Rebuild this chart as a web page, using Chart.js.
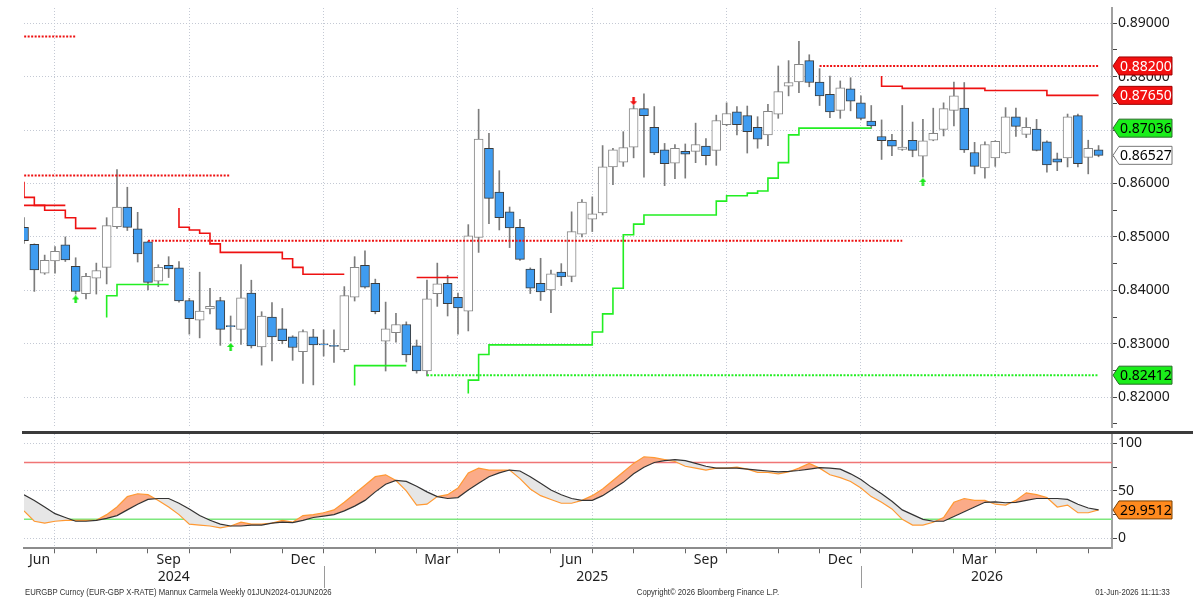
<!DOCTYPE html>
<html>
<head>
<meta charset="utf-8">
<script src="https://cdn.jsdelivr.net/npm/chart.js@4.4.0/dist/chart.umd.min.js"></script>
<style>
  html, body { margin: 0; padding: 0; background: #fff; }
  #wrap { position: relative; width: 1193px; height: 600px; overflow: hidden; }
  #priceCanvas { position: absolute; left: 0; top: 0; }
  #oscCanvas { position: absolute; left: 0; top: 432px; }
  .sep { position: absolute; left: 22px; top: 431px; width: 1171px; height: 3px; background: #3b3b3b; }
  .grip { position: absolute; left: 590px; top: 432px; width: 10px; height: 1px; background: #bbb; }
  .foot { position: absolute; top: 587px; font-family: "Liberation Sans", sans-serif; font-size: 9px; color: #333; white-space: nowrap; transform: scaleX(0.86); }
</style>
</head>
<body>
<div id="wrap">
  <canvas id="priceCanvas" width="1193" height="432"></canvas>
  <canvas id="oscCanvas" width="1193" height="168"></canvas>
  <div class="sep"></div>
  <div class="grip"></div>
  <div class="foot" style="left:25px;transform-origin:left top">EURGBP Curncy (EUR-GBP X-RATE) Mannux Carmela Weekly 01JUN2024-01JUN2026</div>
  <div class="foot" style="left:0;width:1416px;text-align:center;transform-origin:708px top">Copyright© 2026 Bloomberg Finance L.P.</div>
  <div class="foot" style="right:23px;transform-origin:right top">01-Jun-2026 11:11:33</div>
</div>
<script>
// weekly bars, EUR-GBP
const weeks = [];
for (let i = 0; i < 105; i++) {
  weeks.push(new Date(Date.UTC(2024, 5, 7 + 7 * i)).toISOString().slice(0, 10));
}

const open = [
  0.8518, 0.8486, 0.8432, 0.8455, 0.8485, 0.8445, 0.8394, 0.8423, 0.8443, 0.8519,
  0.8556, 0.8515, 0.8491, 0.8417, 0.8447, 0.8442, 0.8381, 0.8344, 0.8365, 0.8381,
  0.8334, 0.8327, 0.8395, 0.8294, 0.8350, 0.8328, 0.8313, 0.8285, 0.8313, 0.8300,
  0.8297, 0.8289, 0.8387, 0.8447, 0.8413, 0.8305, 0.8321, 0.8336, 0.8296, 0.8249,
  0.8394, 0.8413, 0.8387, 0.8361, 0.8499, 0.8666, 0.8584, 0.8547, 0.8518, 0.8440,
  0.8413, 0.8401, 0.8434, 0.8426, 0.8505, 0.8533, 0.8545, 0.8631, 0.8640, 0.8668,
  0.8740, 0.8705, 0.8663, 0.8638, 0.8660, 0.8660, 0.8670, 0.8662, 0.8710, 0.8734,
  0.8727, 0.8705, 0.8691, 0.8730, 0.8782, 0.8790, 0.8830, 0.8790, 0.8767, 0.8737,
  0.8777, 0.8751, 0.8717, 0.8688, 0.8681, 0.8664, 0.8681, 0.8651, 0.8681, 0.8701,
  0.8737, 0.8741, 0.8658, 0.8629, 0.8648, 0.8657, 0.8725, 0.8692, 0.8702, 0.8678,
  0.8646, 0.8648, 0.8727, 0.8649, 0.8663
];
const high = [
  0.8536, 0.8487, 0.8466, 0.8482, 0.8500, 0.8461, 0.8432, 0.8451, 0.8536, 0.8626,
  0.8593, 0.8546, 0.8492, 0.8448, 0.8463, 0.8454, 0.8385, 0.8434, 0.8404, 0.8387,
  0.8352, 0.8448, 0.8419, 0.8360, 0.8377, 0.8366, 0.8315, 0.8326, 0.8327, 0.8326,
  0.8326, 0.8407, 0.8463, 0.8474, 0.8421, 0.8378, 0.8357, 0.8341, 0.8307, 0.8419,
  0.8451, 0.8428, 0.8395, 0.8523, 0.8739, 0.8694, 0.8624, 0.8556, 0.8533, 0.8442,
  0.8460, 0.8438, 0.8450, 0.8547, 0.8570, 0.8575, 0.8671, 0.8666, 0.8697, 0.8746,
  0.8768, 0.8744, 0.8675, 0.8673, 0.8674, 0.8713, 0.8684, 0.8728, 0.8751, 0.8744,
  0.8745, 0.8725, 0.8748, 0.8820, 0.8830, 0.8866, 0.8841, 0.8815, 0.8801, 0.8792,
  0.8798, 0.8764, 0.8746, 0.8719, 0.8692, 0.8746, 0.8715, 0.8720, 0.8741, 0.8751,
  0.8790, 0.8789, 0.8677, 0.8678, 0.8680, 0.8742, 0.8741, 0.8723, 0.8720, 0.8680,
  0.8657, 0.8730, 0.8730, 0.8681, 0.8671
];
const low = [
  0.8488, 0.8398, 0.8430, 0.8432, 0.8454, 0.8393, 0.8384, 0.8393, 0.8412, 0.8516,
  0.8512, 0.8453, 0.8401, 0.8407, 0.8424, 0.8378, 0.8318, 0.8311, 0.8356, 0.8297,
  0.8305, 0.8299, 0.8292, 0.8260, 0.8268, 0.8300, 0.8269, 0.8226, 0.8223, 0.8277,
  0.8265, 0.8285, 0.8380, 0.8404, 0.8356, 0.8249, 0.8303, 0.8266, 0.8245, 0.8240,
  0.8370, 0.8352, 0.8318, 0.8324, 0.8471, 0.8525, 0.8513, 0.8480, 0.8456, 0.8394,
  0.8381, 0.8358, 0.8409, 0.8416, 0.8500, 0.8510, 0.8541, 0.8598, 0.8632, 0.8648,
  0.8612, 0.8654, 0.8596, 0.8609, 0.8610, 0.8639, 0.8635, 0.8634, 0.8708, 0.8691,
  0.8657, 0.8666, 0.8671, 0.8722, 0.8764, 0.8770, 0.8781, 0.8746, 0.8723, 0.8722,
  0.8736, 0.8719, 0.8703, 0.8645, 0.8652, 0.8662, 0.8650, 0.8612, 0.8680, 0.8689,
  0.8708, 0.8658, 0.8618, 0.8610, 0.8632, 0.8656, 0.8688, 0.8686, 0.8661, 0.8621,
  0.8624, 0.8631, 0.8631, 0.8618, 0.8650
];
const close = [
  0.8493, 0.8438, 0.8456, 0.8473, 0.8457, 0.8398, 0.8426, 0.8437, 0.8521, 0.8556,
  0.8518, 0.8468, 0.8415, 0.8443, 0.8440, 0.8380, 0.8347, 0.8361, 0.8370, 0.8327,
  0.8332, 0.8386, 0.8296, 0.8352, 0.8313, 0.8306, 0.8293, 0.8323, 0.8298, 0.8298,
  0.8295, 0.8390, 0.8443, 0.8406, 0.8360, 0.8328, 0.8336, 0.8279, 0.8249, 0.8384,
  0.8412, 0.8375, 0.8367, 0.8502, 0.8683, 0.8572, 0.8536, 0.8517, 0.8458, 0.8404,
  0.8397, 0.8431, 0.8425, 0.8510, 0.8565, 0.8543, 0.8631, 0.8663, 0.8667, 0.8740,
  0.8727, 0.8657, 0.8637, 0.8666, 0.8655, 0.8673, 0.8652, 0.8718, 0.8731, 0.8710,
  0.8697, 0.8683, 0.8735, 0.8772, 0.8789, 0.8823, 0.8789, 0.8764, 0.8734, 0.8779,
  0.8754, 0.8722, 0.8708, 0.8680, 0.8670, 0.8668, 0.8662, 0.8680, 0.8694, 0.8740,
  0.8764, 0.8663, 0.8632, 0.8673, 0.8679, 0.8725, 0.8707, 0.8705, 0.8662, 0.8635,
  0.8640, 0.8725, 0.8637, 0.8666, 0.86527
];

// trailing stop steps: first bar index + level per bar
const resistA = { start: -1, levels: [0.8615, 0.8602, 0.8574, 0.8559, 0.8550, 0.8550, 0.8536, 0.8516, 0.8516] };
const resistA2 = { start: 0, levels: [0.8559, 0.8559, 0.8559, 0.8559, 0.8559] };
const resistB = { start: 15, levels: [0.8554, 0.8518, 0.8513, 0.8507, 0.8487, 0.8471, 0.8471, 0.8471, 0.8471, 0.8471, 0.8471, 0.8459, 0.8443, 0.8430, 0.8430, 0.8430, 0.8430] };
const resistC = { start: 38, levels: [0.8424, 0.8424, 0.8424, 0.8424, 0.8424] };
const resistD = { start: 83, levels: [0.8801, 0.8782, 0.8782, 0.8778, 0.8778, 0.8778, 0.8778, 0.8778, 0.8778, 0.8778, 0.8778, 0.8774, 0.8774, 0.8774, 0.8774, 0.8774, 0.8774, 0.8765, 0.8765, 0.8765, 0.8765, 0.8765] };
const supportA = { start: 8, levels: [0.8349, 0.8390, 0.8411, 0.8411, 0.8411, 0.8411, 0.8411] };
const supportB = { start: 32, levels: [0.8222, 0.8259, 0.8259, 0.8259, 0.8259, 0.8259] };
const supportC = { start: 43, levels: [
  0.8207, 0.8232, 0.8280, 0.8298, 0.8298, 0.8298, 0.8298, 0.8298, 0.8298, 0.8298,
  0.8298, 0.8298, 0.8298, 0.8322, 0.8356, 0.8404, 0.8504, 0.8524, 0.8541, 0.8541,
  0.8541, 0.8541, 0.8541, 0.8541, 0.8541, 0.8567, 0.8577, 0.8577, 0.8582, 0.8586,
  0.8610, 0.8639, 0.8691, 0.87036, 0.87036, 0.87036, 0.87036, 0.87036, 0.87036, 0.87036
] };

// horizontal target levels [level, fromBar, toBar]
const redTargets = [[0.8875, -1, 5], [0.8615, -1, 20], [0.8493, 12, 85], [0.8820, 77, 104]];
const greenTargets = [[0.82412, 39, 104]];

const upSignalBars = [5, 20, 87];
const upSignalLevels = [0.8383, 0.8294, 0.8603];
const downSignalBars = [59];
const downSignalLevels = [0.8754];

// oscillator (fast / slow)
const fastK = [
  29, 18, 16, 18, 19, 19, 19, 19, 25, 33, 44, 47, 46, 40, 33, 25, 15, 14, 13, 11,
  13, 17, 15, 15, 16, 19, 17, 24, 25, 27, 30, 38, 47, 56, 65, 67, 61, 50, 35, 36,
  44, 46, 53, 69, 74, 72, 72, 72, 63, 52, 45, 41, 37, 37, 40, 45, 52, 61, 70, 79,
  86, 85, 83, 81, 76, 74, 72, 74, 74, 75, 73, 69.5, 69.5, 68, 70, 74, 79, 74, 67, 64,
  60, 53, 44, 38, 31, 20, 14, 14, 17, 22, 38, 42, 40, 40, 36, 35, 40, 48, 46, 43,
  33, 35, 27, 27, 29.9512
];
const slowD = [
  46, 40, 33, 26, 22, 18, 18, 19, 21, 24, 30, 36, 41, 42, 42, 37, 31, 24, 19, 15,
  13, 13, 14, 14, 16, 17, 16.5, 19, 22, 23.5, 25, 29, 34, 40, 49, 57, 61, 60, 55, 49,
  44, 42, 43, 51, 58, 65, 69, 72, 71, 65, 58, 51, 46, 42, 40, 40, 45, 52, 59, 68,
  75, 80, 82, 83, 82, 79, 76, 74, 74, 74, 73, 72, 71, 70, 70.5, 71.5, 73, 74.5, 74, 73,
  68, 62, 54, 47, 39, 30, 25, 20, 18, 18, 23, 28, 33, 38, 38.5, 37.5, 38, 40, 42, 42,
  42, 41, 36, 32, 30
];
const overbought = 80;
const oversold = 20;

const quarterTicks = [3, 16, 29, 42, 55, 68, 81, 94];
const monthTicks = [3, 7, 12, 16, 20, 25, 29, 34, 38, 42, 46, 51, 55, 59, 64, 68, 73, 77, 81, 86, 90, 94, 98, 103];
const monthLabels = ['Jun', 'Sep', 'Dec', 'Mar', 'Jun', 'Sep', 'Dec', 'Mar'];
const monthLabelPos = [1.5, 14, 27, 40, 53, 66, 79, 92];
const yearLabels = ['2024', '2025', '2026'];
const yearLabelPos = [14.5, 55, 93.2];
const yearBreaks = [29, 81];

const X_MIN = 0, X_MAX = 105.3;
const GRID = '#c4c9d4';
const BLUE = '#3f9cf0';
const FONT = '"Noto Sans", sans-serif';

const isDown = i => close[i] < open[i];
const steps = s => s.levels.map((v, k) => ({ x: s.start + k, y: v }));

function stepLine(seg, color) {
  return { type: 'line', data: steps(seg), borderColor: color, borderWidth: 1.6, stepped: 'after',
           pointRadius: 0, fill: false, order: 0 };
}
function levelLine(t, color) {
  return { type: 'line', data: [{ x: t[1], y: t[0] }, { x: t[2], y: t[0] }], borderColor: color,
           borderWidth: 2, borderDash: [2, 1.5], pointRadius: 0, fill: false, order: 0 };
}
function arrowImage(color, down) {
  const c = document.createElement('canvas');
  c.width = 7; c.height = 8;
  const g = c.getContext('2d');
  g.fillStyle = color;
  if (down) { g.translate(0, 8); g.scale(1, -1); }
  g.beginPath();
  g.moveTo(3.5, 0); g.lineTo(7, 4); g.lineTo(4.7, 4); g.lineTo(4.7, 8);
  g.lineTo(2.3, 8); g.lineTo(2.3, 4); g.lineTo(0, 4); g.closePath(); g.fill();
  return c;
}

function drawTag(ctx, x, y, text, fill, stroke, textColor) {
  const h = 18, w = 59, tip = 6;
  ctx.save();
  ctx.beginPath();
  ctx.moveTo(x, y);
  ctx.lineTo(x + tip, y - h / 2);
  ctx.lineTo(x + w, y - h / 2);
  ctx.lineTo(x + w, y + h / 2);
  ctx.lineTo(x + tip, y + h / 2);
  ctx.closePath();
  ctx.fillStyle = fill;
  ctx.fill();
  ctx.strokeStyle = stroke;
  ctx.lineWidth = 1;
  ctx.stroke();
  ctx.fillStyle = textColor;
  ctx.font = '14px ' + FONT;
  ctx.textBaseline = 'middle';
  ctx.textAlign = 'left';
  ctx.fillText(text, x + tip + 1, y + 1);
  ctx.restore();
}

const priceTags = {
  id: 'priceTags',
  afterDraw(chart) {
    const { ctx, chartArea, scales: { y } } = chart;
    const x = chartArea.right + 1;
    const last = a => a.levels[a.levels.length - 1];
    drawTag(ctx, x, y.getPixelForValue(redTargets[3][0]), redTargets[3][0].toFixed(5), '#f21010', '#a00000', '#fff');
    drawTag(ctx, x, y.getPixelForValue(last(resistD)), last(resistD).toFixed(5), '#f21010', '#a00000', '#fff');
    drawTag(ctx, x, y.getPixelForValue(last(supportC)), last(supportC).toFixed(5), '#1aee1a', '#2a6a2a', '#000');
    drawTag(ctx, x, y.getPixelForValue(close[close.length - 1]), close[close.length - 1].toFixed(5), '#fff', '#777', '#000');
    drawTag(ctx, x, y.getPixelForValue(greenTargets[0][0]), greenTargets[0][0].toFixed(5), '#1aee1a', '#2a6a2a', '#000');
  }
};

const axisLabels = {
  id: 'axisLabels',
  afterDraw(chart) {
    const { ctx, scales: { x, y } } = chart;
    ctx.save();
    ctx.fillStyle = '#1e1e1e';
    ctx.font = '14px ' + FONT;
    ctx.textAlign = 'center';
    ctx.textBaseline = 'middle';
    monthLabels.forEach((m, i) => ctx.fillText(m, x.getPixelForValue(monthLabelPos[i]), 128));
    yearLabels.forEach((m, i) => ctx.fillText(m, x.getPixelForValue(yearLabelPos[i]), 145));
    ctx.strokeStyle = '#9a9a9a';
    ctx.lineWidth = 1;
    yearBreaks.forEach(b => {
      const px = Math.round(x.getPixelForValue(b)) + 0.5;
      ctx.beginPath(); ctx.moveTo(px, 134); ctx.lineTo(px, 156); ctx.stroke();
    });
    ctx.restore();
    const v = fastK[fastK.length - 1];
    drawTag(ctx, chart.chartArea.right + 1, y.getPixelForValue(v), v.toFixed(4), '#ff8a1e', '#7a4000', '#000');
  }
};

const isMajor = (v, step) => Math.abs(v / step - Math.round(v / step)) < 1e-6;

const priceDatasets = [
  stepLine(resistA, '#ee1111'),
  stepLine(resistA2, '#ee1111'),
  stepLine(resistB, '#ee1111'),
  stepLine(resistC, '#ee1111'),
  stepLine(resistD, '#ee1111'),
  stepLine(supportA, '#22ee22'),
  stepLine(supportB, '#22ee22'),
  stepLine(supportC, '#22ee22'),
  ...redTargets.map(t => levelLine(t, '#ee1111')),
  ...greenTargets.map(t => levelLine(t, '#22ee22')),
  { type: 'line', showLine: false, order: 0, pointStyle: arrowImage('#18e818', false),
    data: upSignalBars.map((b, k) => ({ x: b, y: upSignalLevels[k] })) },
  { type: 'line', showLine: false, order: 0, pointStyle: arrowImage('#ee1111', true),
    data: downSignalBars.map((b, k) => ({ x: b, y: downSignalLevels[k] })) },
  { type: 'bar', order: 5, grouped: false, barThickness: 9, borderWidth: 1, borderSkipped: false,
    data: close.map((c, i) => ({ x: i, y: [open[i], c] })),
    backgroundColor: c => isDown(c.dataIndex) ? BLUE : '#ffffff',
    borderColor: c => isDown(c.dataIndex) ? '#3c3c3c' : '#868686' },
  { type: 'bar', order: 6, grouped: false, barThickness: 1, borderWidth: 0,
    data: high.map((h, i) => ({ x: i, y: [low[i], h] })),
    backgroundColor: '#7c7c7c' }
];

new Chart(document.getElementById('priceCanvas'), {
  type: 'line',
  data: { labels: weeks, datasets: priceDatasets },
  options: {
    responsive: false,
    animation: false,
    layout: { padding: { left: 24, top: 8, right: 0, bottom: 2 } },
    plugins: { legend: { display: false }, tooltip: { enabled: false } },
    scales: {
      x: {
        type: 'linear', min: X_MIN, max: X_MAX, offset: false,
        afterBuildTicks: s => { s.ticks = quarterTicks.map(v => ({ value: v })); },
        ticks: { display: false },
        grid: { offset: false, color: GRID, drawTicks: false },
        border: { display: false, dash: [1, 2] },
        afterFit: s => { s.height = 0; s.paddingLeft = 0; s.paddingRight = 0; }
      },
      y: {
        position: 'right', min: 0.81442, max: 0.89285,
        afterBuildTicks: s => {
          const t = [];
          for (let k = 163; k <= 178; k++) t.push({ value: k / 200 });
          s.ticks = t;
        },
        ticks: {
          autoSkip: false, padding: 1, color: '#1a1a1a', font: { family: FONT, size: 14 },
          callback: v => isMajor(v, 0.01) ? v.toFixed(5) : ''
        },
        grid: {
          color: c => isMajor(c.tick.value, 0.01) ? GRID : 'rgba(0,0,0,0)',
          tickColor: '#444', tickLength: 5, tickWidth: 1
        },
        border: { display: true, color: '#a0a0a0', width: 2, dash: [1, 2] },
        afterFit: s => { s.width = 81; s.paddingTop = 0; s.paddingBottom = 0; }
      }
    }
  },
  plugins: [priceTags]
});

new Chart(document.getElementById('oscCanvas'), {
  type: 'line',
  data: {
    labels: weeks,
    datasets: [
      { label: 'fast', data: fastK.map((v, i) => ({ x: i, y: v })), borderColor: '#ff9933', borderWidth: 1.2,
        pointRadius: 0, order: 1, fill: { target: 1, above: '#fbab88', below: '#e6e6e6' } },
      { label: 'slow', data: slowD.map((v, i) => ({ x: i, y: v })), borderColor: '#333333', borderWidth: 1.2,
        pointRadius: 0, order: 0, fill: false },
      { label: 'ob', data: [{ x: X_MIN, y: overbought }, { x: X_MAX, y: overbought }], borderColor: '#f07575',
        borderWidth: 1.5, pointRadius: 0, order: 2, fill: false },
      { label: 'os', data: [{ x: X_MIN, y: oversold }, { x: X_MAX, y: oversold }], borderColor: '#7ee87e',
        borderWidth: 1.5, pointRadius: 0, order: 2, fill: false }
    ]
  },
  options: {
    responsive: false,
    animation: false,
    layout: { padding: { left: 24, top: 2, right: 0, bottom: 43.7 } },
    plugins: { legend: { display: false }, tooltip: { enabled: false } },
    scales: {
      x: {
        type: 'linear', min: X_MIN, max: X_MAX, offset: false,
        afterBuildTicks: s => { s.ticks = monthTicks.map(v => ({ value: v })); },
        ticks: { display: false },
        grid: {
          offset: false,
          color: c => quarterTicks.includes(c.tick.value) ? GRID : 'rgba(0,0,0,0)',
          drawTicks: true, tickLength: 5, tickColor: '#666', tickWidth: 1
        },
        border: { display: true, color: '#8c8c8c', width: 2, dash: [1, 2] },
        afterFit: s => { s.height = 8; s.paddingLeft = 0; s.paddingRight = 0; }
      },
      y: {
        position: 'right', min: -10.5, max: 110,
        afterBuildTicks: s => { s.ticks = [0, 25, 50, 75, 100].map(v => ({ value: v })); },
        ticks: {
          autoSkip: false, padding: 1, color: '#1a1a1a', font: { family: FONT, size: 14 },
          callback: v => v % 50 === 0 ? String(v) : ''
        },
        grid: {
          color: c => c.tick.value % 50 === 0 ? GRID : 'rgba(0,0,0,0)',
          tickColor: '#444', tickLength: 5, tickWidth: 1
        },
        border: { display: true, color: '#a0a0a0', width: 2, dash: [1, 2] },
        afterFit: s => { s.width = 81; s.paddingTop = 0; s.paddingBottom = 0; }
      }
    }
  },
  plugins: [axisLabels]
});
</script>
</body>
</html>
